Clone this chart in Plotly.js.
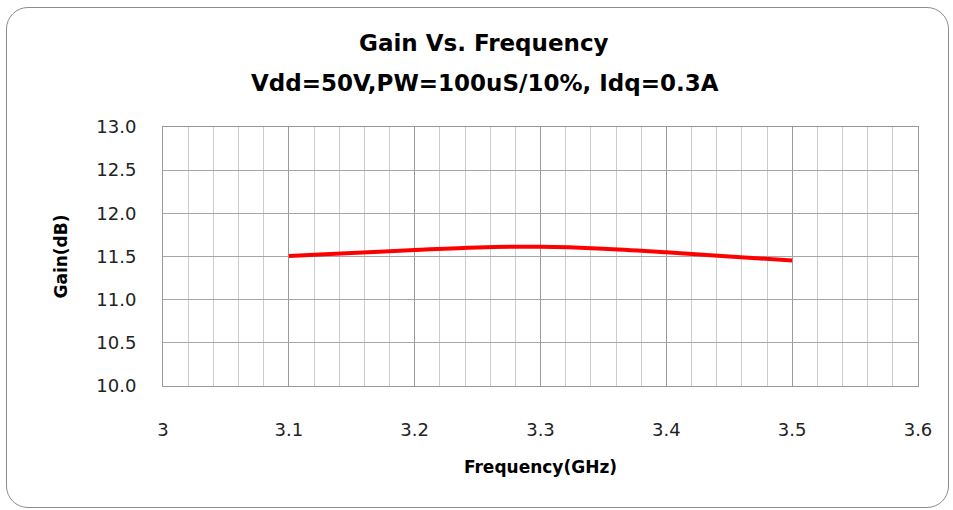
<!DOCTYPE html>
<html>
<head>
<meta charset="utf-8">
<script src="https://cdn.plot.ly/plotly-3.0.1.min.js"></script>
<style>
html,body{margin:0;padding:0;background:#fff;}
#wrap{position:relative;width:953px;height:510px;}
#chart{position:absolute;left:0;top:0;width:953px;height:510px;}
#frame{position:absolute;left:6px;top:7px;width:941px;height:499px;border:1.5px solid #8c8c8c;border-radius:22px;pointer-events:none;}
</style>
</head>
<body>
<div id="wrap"><div id="chart"></div><div id="frame"></div></div>
<script>
const frequency = [3.10, 3.15, 3.20, 3.25, 3.30, 3.35, 3.40, 3.45, 3.50];
const gain = [11.505, 11.54, 11.575, 11.605, 11.612, 11.59, 11.548, 11.50, 11.455];
const xTicks = [3, 3.1, 3.2, 3.3, 3.4, 3.5, 3.6];
const xTickLabels = ['3', '3.1', '3.2', '3.3', '3.4', '3.5', '3.6'];
const yTicks = [10.0, 10.5, 11.0, 11.5, 12.0, 12.5, 13.0];
const yTickLabels = ['10.0', '10.5', '11.0', '11.5', '12.0', '12.5', '13.0'];
const titleLine1 = 'Gain Vs. Frequency';
const titleLine2 = 'Vdd=50V,PW=100uS/10%, Idq=0.3A';

const trace = {
  x: frequency, y: gain, type: 'scatter', mode: 'lines',
  line: {color: '#ff0000', width: 4, shape: 'spline', smoothing: 1},
  hoverinfo: 'x+y', showlegend: false
};

const titleFont = {family: 'DejaVu Sans, sans-serif', size: 23, color: '#000', weight: 'bold'};
const plotTop = 127, plotBottom = 386;
function paperY(px) { return (plotBottom - px) / (plotBottom - plotTop); }

const layout = {
  width: 953, height: 510,
  margin: {l: 163, r: 35, t: plotTop, b: 510 - plotBottom},
  paper_bgcolor: 'rgba(0,0,0,0)', plot_bgcolor: '#fff',
  annotations: [
    {text: '<b>' + titleLine1 + '</b>', xref: 'paper', yref: 'paper',
     x: (484 - 163) / (918 - 163), y: paperY(43), xanchor: 'center', yanchor: 'middle',
     showarrow: false, font: titleFont},
    {text: '<b>' + titleLine2 + '</b>', xref: 'paper', yref: 'paper',
     x: (485 - 163) / (918 - 163), y: paperY(83), xanchor: 'center', yanchor: 'middle',
     showarrow: false, font: titleFont}
  ],
  xaxis: {
    range: [3, 3.6], tickvals: xTicks, ticktext: xTickLabels,
    showgrid: true, gridcolor: '#999999', gridwidth: 1,
    minor: {dtick: 0.02, tick0: 3, showgrid: true, gridcolor: '#cccccc', gridwidth: 1},
    showline: true, linecolor: '#999999', linewidth: 1, mirror: true,
    ticks: '', ticklabelstandoff: 27, zeroline: false,
    tickfont: {family: 'DejaVu Sans, Verdana, sans-serif', size: 18, color: '#222'},
    title: {text: '<b>Frequency(GHz)</b>', standoff: 22,
      font: {family: 'DejaVu Sans, sans-serif', size: 17, color: '#000'}}
  },
  yaxis: {
    range: [10, 13], tickvals: yTicks, ticktext: yTickLabels,
    showgrid: true, gridcolor: '#a6a6a6', gridwidth: 1,
    showline: true, linecolor: '#999999', linewidth: 1, mirror: true,
    ticks: '', ticklabelstandoff: 22, zeroline: false,
    tickfont: {family: 'DejaVu Sans, Verdana, sans-serif', size: 18, color: '#222'},
    title: {text: '<b>Gain(dB)</b>', standoff: 24,
      font: {family: 'DejaVu Sans, sans-serif', size: 17, color: '#000'}}
  }
};

Plotly.newPlot('chart', [trace], layout, {displayModeBar: false, staticPlot: true});
</script>
</body>
</html>
